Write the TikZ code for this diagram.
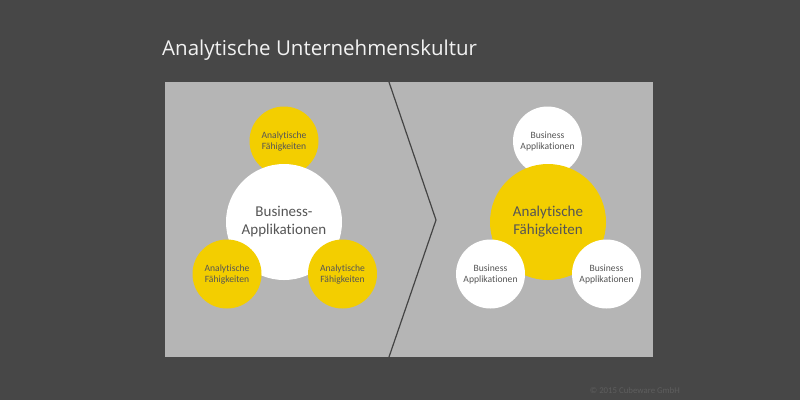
\documentclass[tikz,border=0pt]{standalone}
\usepackage{fontspec}
\setmainfont[Ligatures={NoCommon}]{Carlito}
\newfontfamily\titlefont{Open Sans}
\definecolor{bgdark}{HTML}{474747}
\definecolor{panelgray}{HTML}{B5B5B5}
\definecolor{cyellow}{HTML}{F3CE00}
\definecolor{ctext}{HTML}{555555}
\definecolor{chev}{HTML}{444444}
\definecolor{copyc}{HTML}{5E5E5E}
\definecolor{titlec}{HTML}{F2F2F2}
\begin{document}
\begin{tikzpicture}[x=1pt,y=-1pt,
  smallc/.style={circle,minimum size=69pt,inner sep=0pt,align=center,text=ctext,font=\fontsize{9.6}{11}\selectfont},
  bigc/.style={circle,minimum size=116pt,inner sep=0pt,align=center,text=ctext,font=\fontsize{15}{18}\selectfont},
]
\useasboundingbox (0,0) rectangle (800,400);
\fill[bgdark] (0,0) rectangle (800,400);
\node[fill=panelgray,minimum width=488pt,minimum height=275pt,inner sep=0pt,anchor=north west] (panel) at (165,82) {};
\coordinate (ct) at (389,82);
\coordinate (cm) at (436,220);
\coordinate (cb) at (389,357);
\draw[chev,line width=1.2pt] (ct) -- (cm) -- (cb);
\node[anchor=base west,text=titlec,font=\titlefont\fontsize{20.5}{24}\selectfont,inner sep=0pt] (title) at (162,55) {Analytische Unternehmenskultur};
% left group
\node[smallc,fill=cyellow] (lt) at (284,141) {Analytische\\Fähigkeiten};
\node[bigc,fill=white] (lc) at (284,222) {Business-\\Applikationen};
\node[smallc,fill=cyellow] (ll) at (227,274) {Analytische\\Fähigkeiten};
\node[smallc,fill=cyellow] (lr) at (342.5,274) {Analytische\\Fähigkeiten};
% right group
\node[smallc,fill=white] (rt) at (547.5,141) {Business\\Applikationen};
\node[bigc,fill=cyellow] (rc) at (548,222) {Analytische\\Fähigkeiten};
\node[smallc,fill=white] (rl) at (490.5,274) {Business\\Applikationen};
\node[smallc,fill=white] (rr) at (606.5,274) {Business\\Applikationen};
\node[anchor=base east,text=copyc,font=\fontsize{8.8}{10}\selectfont,inner sep=0pt] (copy) at (680,393) {© 2015 Cubeware GmbH};
\end{tikzpicture}
\end{document}
